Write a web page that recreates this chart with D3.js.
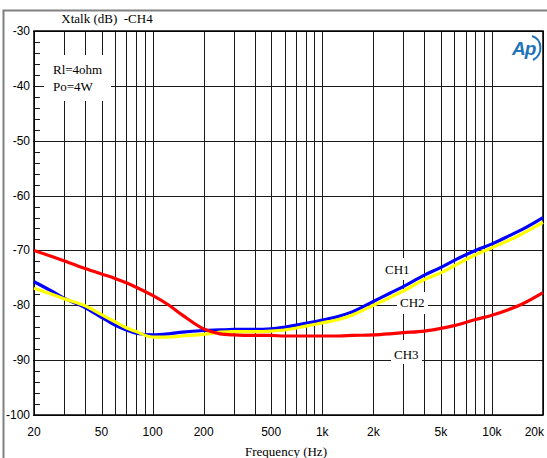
<!DOCTYPE html>
<html>
<head>
<meta charset="utf-8">
<script src="https://cdn.jsdelivr.net/npm/d3@7"></script>
<style>
  body { margin: 0; background: #fff; }
  svg { display: block; }
  .serif { font-family: "Liberation Serif", "Times New Roman", serif; }
  .sans { font-family: "Liberation Sans", Arial, sans-serif; }
</style>
</head>
<body>
<div id="chart"></div>
<script>
// Frequency points (Hz)
var freqs = [20, 25, 30, 40, 50, 60, 70, 80, 100, 125, 150, 200, 250, 300, 400, 500,
             600, 800, 1000, 1250, 1500, 2000, 2500, 3000, 4000, 5000, 6000, 8000,
             10000, 12500, 15000, 20000];

// Crosstalk in dB
var ch1 = [-75.7, -77.3, -78.7, -80.4, -82.2, -83.6, -84.5, -85.1, -85.4, -85.2, -84.9, -84.6,
           -84.5, -84.4, -84.4, -84.3, -84.0, -83.3, -82.7, -82.0, -81.2, -79.3, -77.8, -76.6,
           -74.5, -73.1, -71.8, -70.0, -68.8, -67.4, -66.2, -64.0];
var ch2 = [-76.9, -77.9, -78.8, -80.1, -81.7, -83.0, -84.1, -84.8, -85.8, -85.8, -85.6, -85.3,
           -84.9, -84.8, -84.8, -84.7, -84.5, -83.8, -83.2, -82.6, -81.8, -80.0, -78.6, -77.4,
           -75.3, -74.1, -72.8, -70.8, -69.5, -68.2, -67.0, -64.9];
var ch3 = [-70.0, -71.0, -71.9, -73.3, -74.3, -75.1, -75.9, -76.7, -78.2, -80.0, -81.8, -84.3,
           -85.2, -85.4, -85.5, -85.5, -85.6, -85.6, -85.6, -85.6, -85.5, -85.4, -85.2, -85.0,
           -84.7, -84.2, -83.7, -82.6, -81.8, -80.8, -79.8, -77.7];

// Tick values and labels
var xGrid = [20, 30, 40, 50, 60, 70, 80, 90, 100, 200, 300, 400, 500, 600, 700, 800, 900,
             1000, 2000, 3000, 4000, 5000, 6000, 7000, 8000, 9000, 10000, 20000];
var xTickVals = [20, 50, 100, 200, 500, 1000, 2000, 5000, 10000, 20000];
var xTickText = ["20", "50", "100", "200", "500", "1k", "2k", "5k", "10k", "20k"];
var yTickVals = [-30, -40, -50, -60, -70, -80, -90, -100];

var series = [
    { name: "CH1", color: "#0000ff", values: ch1 },
    { name: "CH2", color: "#ffff00", values: ch2 },
    { name: "CH3", color: "#ff0000", values: ch3 }
];

var svgWidth = 547, svgHeight = 458;
var margin = { top: 31, left: 34, right: 4, bottom: 43 };

var svg = d3.select("#chart").append("svg")
    .attr("width", svgWidth)
    .attr("height", svgHeight);

var x = d3.scaleLog().domain([20, 20000]).range([margin.left, svgWidth - margin.right]);
var y = d3.scaleLinear().domain([-30, -100]).range([margin.top, svgHeight - margin.bottom]);

// outer frame (runs off the right and bottom of the picture)
svg.append("rect")
    .attr("x", 3.5).attr("y", 10.5)
    .attr("width", 600).attr("height", 600)
    .attr("fill", "none")
    .attr("stroke", "#808080")
    .attr("stroke-width", 2);

// vertical grid
svg.append("g").selectAll("line")
    .data(xGrid)
    .enter().append("line")
    .attr("x1", d => Math.round(x(d)) + 0.5)
    .attr("x2", d => Math.round(x(d)) + 0.5)
    .attr("y1", y(-30))
    .attr("y2", y(-100))
    .attr("stroke", "#1a1a1a")
    .attr("stroke-width", 1);

// horizontal grid
svg.append("g").selectAll("line")
    .data(yTickVals)
    .enter().append("line")
    .attr("x1", x(20) - 1)
    .attr("x2", x(20000))
    .attr("y1", d => Math.round(y(d)) + 0.5)
    .attr("y2", d => Math.round(y(d)) + 0.5)
    .attr("stroke", "#1a1a1a")
    .attr("stroke-width", 1);

// minor y ticks every 2 dB
var minor = d3.range(-32, -100, -2).filter(d => d % 10 !== 0);
svg.append("g").selectAll("line")
    .data(minor)
    .enter().append("line")
    .attr("x1", x(20))
    .attr("x2", x(20) + 6)
    .attr("y1", d => Math.round(y(d)) + 0.5)
    .attr("y2", d => Math.round(y(d)) + 0.5)
    .attr("stroke", "#1a1a1a");

// white boxes behind the annotation texts
var boxes = [
    { x: 44, y: 55, w: 67, h: 46 },
    { x: 382, y: 258, w: 30, h: 22 },
    { x: 397, y: 292, w: 31, h: 22 },
    { x: 391, y: 340, w: 31, h: 24 }
];
svg.append("g").selectAll("rect")
    .data(boxes)
    .enter().append("rect")
    .attr("x", d => d.x).attr("y", d => d.y)
    .attr("width", d => d.w).attr("height", d => d.h)
    .attr("fill", "#fff");

// plot border
svg.append("rect")
    .attr("x", x(20)).attr("y", y(-30))
    .attr("width", x(20000) - x(20))
    .attr("height", y(-100) - y(-30))
    .attr("fill", "none")
    .attr("stroke", "#000")
    .attr("stroke-width", 1.5);

// curves
var line = d3.line()
    .x((d, i) => x(freqs[i]))
    .y(d => y(d))
    .curve(d3.curveMonotoneX);

svg.append("g").selectAll("path")
    .data(series)
    .enter().append("path")
    .attr("d", d => line(d.values))
    .attr("fill", "none")
    .attr("stroke", d => d.color)
    .attr("stroke-width", 3.2)
    .attr("stroke-linejoin", "round");

// y tick labels
svg.append("g").selectAll("text")
    .data(yTickVals)
    .enter().append("text")
    .attr("class", "sans")
    .attr("x", 30)
    .attr("y", d => y(d) + 4)
    .attr("text-anchor", "end")
    .attr("font-size", "12px")
    .text(d => d);

// x tick labels
svg.append("g").selectAll("text")
    .data(xTickVals)
    .enter().append("text")
    .attr("class", "sans")
    .attr("x", (d, i) => i === xTickVals.length - 1 ? x(d) + 1 : x(d))
    .attr("y", 436)
    .attr("text-anchor", (d, i) => i === xTickVals.length - 1 ? "end" : "middle")
    .attr("font-size", "12px")
    .text((d, i) => xTickText[i]);

// titles and notes
svg.append("text").attr("class", "serif")
    .attr("x", 107).attr("y", 23)
    .attr("text-anchor", "middle")
    .attr("font-size", "13px")
    .attr("xml:space", "preserve")
    .text("Xtalk (dB)  -CH4");

svg.append("text").attr("class", "serif")
    .attr("x", 286).attr("y", 456)
    .attr("text-anchor", "middle")
    .attr("font-size", "13px")
    .text("Frequency (Hz)");

svg.append("text").attr("class", "serif")
    .attr("x", 53).attr("y", 74)
    .attr("font-size", "13px")
    .text("Rl=4ohm");
svg.append("text").attr("class", "serif")
    .attr("x", 53).attr("y", 91)
    .attr("font-size", "13px")
    .text("Po=4W");

var chLabels = [
    { text: "CH1", x: 385, y: 274 },
    { text: "CH2", x: 400, y: 307 },
    { text: "CH3", x: 394, y: 359 }
];
svg.append("g").selectAll("text")
    .data(chLabels)
    .enter().append("text")
    .attr("class", "serif")
    .attr("x", d => d.x).attr("y", d => d.y)
    .attr("font-size", "13px")
    .text(d => d.text);

// Ap logo
var logo = svg.append("g").attr("transform", "translate(512, 35)");
logo.append("text")
    .attr("x", 0).attr("y", 20)
    .attr("font-family", "Liberation Sans, Arial, sans-serif")
    .attr("font-style", "italic")
    .attr("font-weight", "bold")
    .attr("font-size", "19px")
    .attr("letter-spacing", "-1px")
    .attr("fill", "#1f74b8")
    .text("Ap");
logo.append("path")
    .attr("d", "M20,1 C30,4 32,19 21,25")
    .attr("fill", "none")
    .attr("stroke", "#1f74b8")
    .attr("stroke-width", 2);
</script>
</body>
</html>
